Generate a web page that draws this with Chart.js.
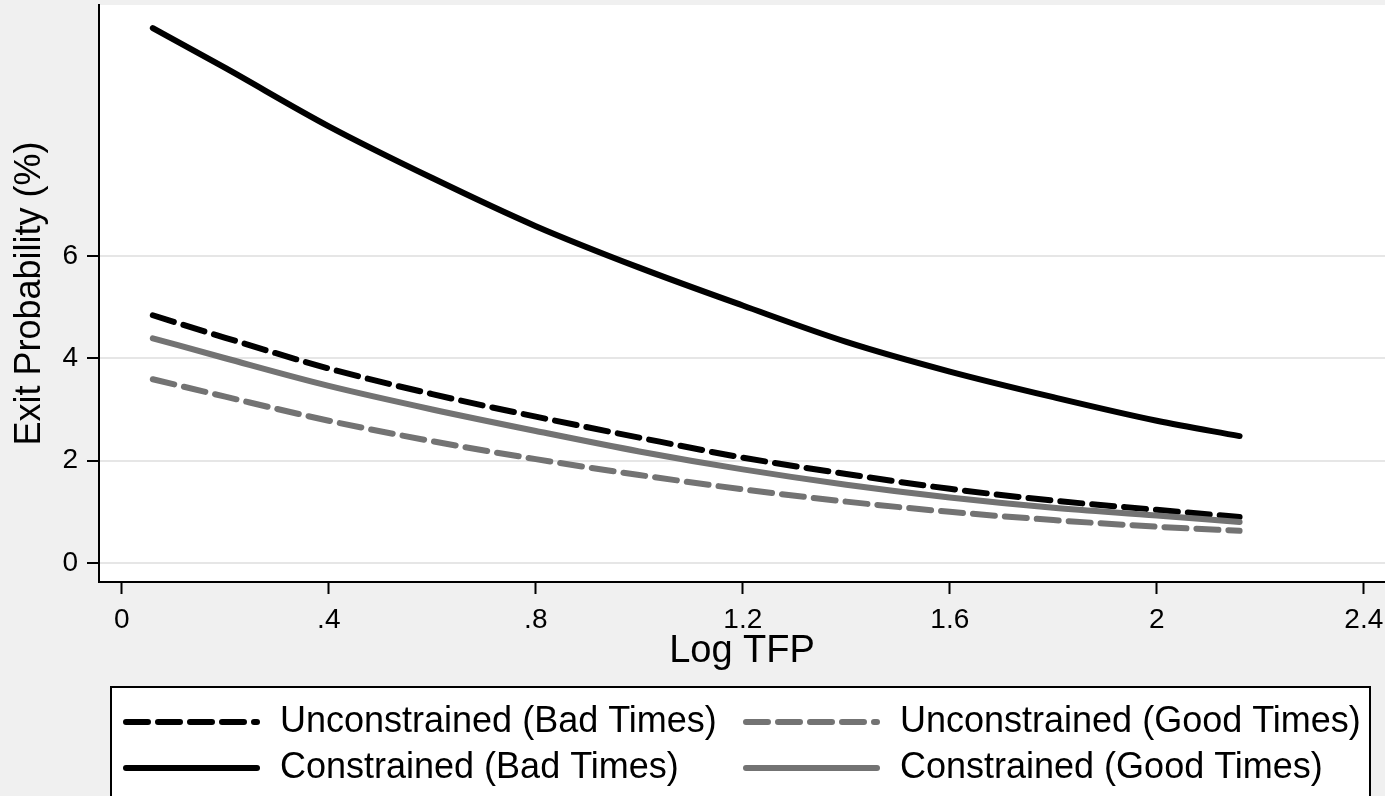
<!DOCTYPE html>
<html>
<head>
<meta charset="utf-8">
<script src="https://cdn.jsdelivr.net/npm/chart.js@4.4.1/dist/chart.umd.min.js"></script>
<style>
html, body { margin: 0; padding: 0; background: #f0f0f0; overflow: hidden; }
canvas { display: block; }
</style>
</head>
<body>
<canvas id="exitChart" width="1385" height="796"></canvas>
<script>
// 数据：近似值
const logTfp = [0.06, 0.2, 0.4, 0.6, 0.8, 1.0, 1.2, 1.4, 1.6, 1.8, 2.0, 2.16];
const unconBad = [4.84, 4.40, 3.80, 3.30, 2.86, 2.45, 2.06, 1.74, 1.45, 1.22, 1.04, 0.90];
const unconGood = [3.59, 3.25, 2.78, 2.38, 2.03, 1.72, 1.44, 1.20, 1.00, 0.84, 0.71, 0.63];
const conBad = [10.45, 9.67, 8.53, 7.52, 6.58, 5.77, 5.03, 4.32, 3.74, 3.24, 2.78, 2.48];
const conGood = [4.39, 4.00, 3.46, 3.00, 2.58, 2.18, 1.83, 1.53, 1.28, 1.08, 0.93, 0.80];

const seriesLabels = [
    'Unconstrained (Bad Times)',
    'Unconstrained (Good Times)',
    'Constrained (Bad Times)',
    'Constrained (Good Times)'
];

const xTicks = [0, 0.4, 0.8, 1.2, 1.6, 2, 2.4];
const xTickLabels = ['0', '.4', '.8', '1.2', '1.6', '2', '2.4'];
const yTicks = [0, 2, 4, 6];

const FONT = "'Liberation Sans', Arial, sans-serif";
const GRAY = '#737373';
const DASH = [22, 10];

function toPoints(ys) {
    return logTfp.map((x, i) => ({ x, y: ys[i] }));
}

function lineSet(label, ys, color, dashed, order) {
    return {
        label,
        data: toPoints(ys),
        borderColor: color,
        borderWidth: 6,
        borderDash: dashed ? DASH : [],
        borderCapStyle: 'round',
        borderJoinStyle: 'round',
        pointRadius: 0,
        cubicInterpolationMode: 'monotone',
        fill: false,
        order
    };
}

// 背景：外部灰色，绘图区白色
const backgroundPlugin = {
    id: 'stataBackground',
    beforeDraw(chart) {
        const { ctx, chartArea } = chart;
        ctx.save();
        ctx.fillStyle = '#f0f0f0';
        ctx.fillRect(0, 0, chart.width, chart.height);
        ctx.fillStyle = '#ffffff';
        ctx.fillRect(chartArea.left, chartArea.top, chartArea.right - chartArea.left, chartArea.bottom - chartArea.top);
        ctx.restore();
    }
};

// 图例：底部的方框，两列两行
const legendPlugin = {
    id: 'boxLegend',
    afterDraw(chart) {
        const { ctx } = chart;
        ctx.save();
        ctx.fillStyle = '#ffffff';
        ctx.fillRect(111, 687, 1259, 120);
        ctx.strokeStyle = '#000';
        ctx.lineWidth = 2;
        ctx.strokeRect(111, 687, 1259, 120);

        const colX = [126, 746];
        const rowY = [722, 768];
        chart.data.datasets.forEach((ds, i) => {
            const x = colX[i % 2];
            const y = rowY[Math.floor(i / 2)];
            ctx.beginPath();
            ctx.strokeStyle = ds.borderColor;
            ctx.lineWidth = ds.borderWidth;
            ctx.lineCap = 'round';
            ctx.setLineDash(ds.borderDash);
            ctx.moveTo(x, y);
            ctx.lineTo(x + 131, y);
            ctx.stroke();
            ctx.setLineDash([]);
            ctx.fillStyle = '#000';
            ctx.font = '36px ' + FONT;
            ctx.textBaseline = 'middle';
            ctx.fillText(ds.label, x + 154, y);
        });
        ctx.restore();
    }
};

const ctx = document.getElementById('exitChart').getContext('2d');
new Chart(ctx, {
    type: 'line',
    data: {
        datasets: [
            lineSet(seriesLabels[0], unconBad, '#000', true, 2),
            lineSet(seriesLabels[1], unconGood, GRAY, true, 1),
            lineSet(seriesLabels[2], conBad, '#000', false, 2),
            lineSet(seriesLabels[3], conGood, GRAY, false, 1)
        ]
    },
    options: {
        responsive: false,
        animation: false,
        layout: { padding: { top: 5, right: 0, bottom: 114, left: 0 } },
        plugins: {
            legend: { display: false },
            tooltip: { enabled: false }
        },
        scales: {
            x: {
                type: 'linear',
                min: -0.044,
                max: 2.441,
                afterBuildTicks: s => { s.ticks = xTicks.map(v => ({ value: v })); },
                afterFit: s => { s.height = 100; s.paddingLeft = 0; s.paddingRight = 0; },
                ticks: {
                    callback: (v, i) => xTickLabels[i],
                    color: '#000',
                    font: { family: FONT, size: 28 },
                    maxRotation: 0,
                    autoSkip: false,
                    padding: 9
                },
                grid: {
                    drawOnChartArea: false,
                    drawTicks: true,
                    tickLength: 12,
                    tickWidth: 2,
                    tickColor: '#000'
                },
                border: { color: '#000', width: 2 },
                title: {
                    display: true,
                    text: 'Log TFP',
                    color: '#000',
                    font: { family: FONT, size: 38 },
                    padding: { top: 0, bottom: 8 }
                }
            },
            y: {
                min: -0.37,
                max: 10.9,
                afterBuildTicks: s => { s.ticks = yTicks.map(v => ({ value: v })); },
                afterFit: s => { s.width = 99; s.paddingTop = 0; s.paddingBottom = 0; },
                ticks: {
                    color: '#000',
                    font: { family: FONT, size: 28 },
                    padding: 9
                },
                grid: {
                    color: '#e6e6e6',
                    lineWidth: 2,
                    drawTicks: true,
                    tickLength: 12,
                    tickWidth: 2,
                    tickColor: '#000'
                },
                border: { color: '#000', width: 2 },
                title: {
                    display: true,
                    text: 'Exit Probability (%)',
                    color: '#000',
                    font: { family: FONT, size: 36 },
                    padding: { top: 8, bottom: 0 }
                }
            }
        }
    },
    plugins: [backgroundPlugin, legendPlugin]
});
</script>
</body>
</html>
